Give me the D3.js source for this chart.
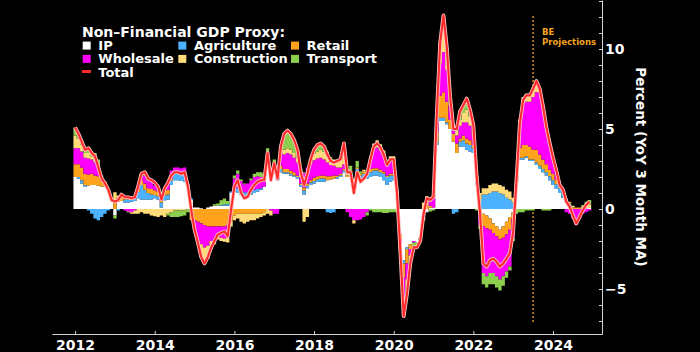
<!DOCTYPE html>
<html lang="en">
<head>
    <meta charset="utf-8">
    <title>Non-Financial GDP Proxy</title>
    <script type="text/javascript" src="https://d3js.org/d3.v7.min.js"></script>
    <style type="text/css">
        body { margin: 0; background: #000; }
        svg text { font-family: "DejaVu Sans", sans-serif; font-weight: bold; }
    </style>
</head>
<body>
    <script type="text/javascript">

        const width = 700;
        const height = 352;

        // monthly values, Jan 2012 .. Dec 2024 (percent, YoY 3 month MA)
        const startYear = 2012;

        const seriesNames = ["IP", "Agriculture", "Retail", "Wholesale", "Construction", "Transport"];
        const seriesColors = ["#ffffff", "#4cb1ff", "#ffa21c", "#ff00ff", "#ffdb7a", "#8ccf4e"];

        const ip = [
            2.0, 1.9, 1.6, 1.4, 1.45, 1.5, 1.5, 1.45, 1.4, 1.4, 1.2, 0.5,
            -0.4, 0.45, 0.5, 0.4, 0.4, 0.45, 0.5, 0.67, 0.6, 0.6, 0.6, 0.6,
            0.67, 0.6, 0.1, 0.55, 0.6, 1.5, 1.8, 1.8, 1.75, 1.7, 1.4, 0.56,
            0.1, 0.1, 0.05, 0.0, 0.1, 0.15, 0.2, 0.2, 0.2, 0.2, 0.2, 1.0,
            1.1, 1.0, 0.9, 0.8, 0.85, 0.9, 1.0, 1.1, 1.2, 1.4, 2.9, 1.9,
            2.2, 1.8, 2.3, 2.2, 2.2, 2.1, 2.0, 1.9, 1.4, 0.9, 1.3, 1.5,
            1.6, 1.7, 1.7, 1.7, 1.8, 1.85, 1.9, 1.9, 2.0, 2.3, 2.0, 2.2,
            1.6, 2.3, 1.9, 1.9, 1.9, 2.0, 2.1, 2.1, 2.0, 1.8, 1.5, 1.7,
            1.8, 1.1, -1.6, -3.2, -2.4, -2.2, -2.0, -2.1, -1.8, -0.7, -0.2, 0.1,
            0.1, 4.0, 5.5, 5.5, 5.3, 5.0, 4.2, 3.5, 3.9, 3.9, 3.7, 3.6,
            3.5, 1.5, 0.0, -0.3, -0.4, -0.6, -0.9, -1.1, -1.3, -1.1, -0.8, -0.5,
            -0.2, 1.7, 3.1, 3.1, 3.2, 3.0, 3.0, 2.75, 2.5, 2.3, 2.1, 1.8,
            1.5, 1.25, 1.0, 0.7, 0.4, 0.15, 0.0, 0.0, 0.0, 0.05, 0.05, 0.06
        ];

        const agriculture = [
            0, 0.1, 0.2, 0.1, -0.1, -0.3, -0.6, -0.7, -0.5, -0.3, -0.1, 0,
            0, -0.1, 0, 0.2, 0.2, 0.15, 0.2, 0.4, 0.9, 0.6, 0.4, 0.3,
            0.2, 0.2, 0.3, 0.3, 0.3, 0.3, 0.4, 0.4, 0.45, 0.5, 0.2, 0.1,
            0, 0, 0, 0, 0, 0, 0, 0, 0.05, 0.1, 0.1, 0.1,
            0.2, 0.3, 0.25, 0.25, 0.2, 0.2, 0.2, 0.15, 0.1, 0, 0.2, 0.1,
            0.2, 0.2, 0.2, 0.1, 0.1, 0.1, 0.1, 0.1, 0.1, 0.25, 0.15, 0.15,
            0.15, 0.15, 0.2, 0.2, -0.2, -0.25, -0.2, 0.1, 0.1, 0.1, 0, 0.1,
            0.1, 0.2, 0.2, 0.3, 0.3, 0.3, 0.3, 0.3, 0.3, 0.4, 0.5, 0.4,
            0.3, 0.1, 0, -0.2, -0.1, 0, 0, 0, 0, 0, 0, 0,
            0, 0.2, 0.2, 0.2, 0.1, 0, -0.3, -0.2, 0.3, 0.4, 0.4, 0.4,
            0.3, 0.3, 0.5, 0.9, 0.9, 1.0, 1.1, 1.1, 1.0, 0.9, 0.7, 0.6,
            0.4, 0.1, 0.1, 0.1, 0.1, 0.1, 0.1, 0.15, 0.2, 0.2, 0.2, 0.25,
            0.3, 0.3, 0.3, 0.35, 0.25, 0.2, 0, 0, 0, 0, 0, 0
        ];

        const retail = [
            0.8, 0.8, 0.8, 0.7, 0.7, 0.7, 0.6, 0.6, 0.4, 0.3, 0.06, 0.06,
            0.55, 0.3, 0.3, 0.15, 0.1, 0.1, 0.1, 0.2, 0.3, 0.4, 0.3, 0.35,
            0.3, 0.3, 0.1, 0.3, 0.3, 0.1, 0, 0, 0, 0, 0, -0.7,
            -0.7, -0.8, -0.9, -1.0, -1.1, -1.1, -1.1, -1.1, -1.1, -1.1, -1.0, -0.8,
            -0.4, -0.3, -0.3, -0.3, -0.3, -0.3, -0.3, -0.3, -0.3, -0.2, 0.1, 0,
            0.2, 0.1, 0.2, 0.2, 0.2, 0.2, 0.2, 0.1, 0.1, 0.2, 0.15, 0.15,
            0.2, 0.2, 0.2, 0.2, 0.25, 0.2, 0.2, 0.1, 0.1, 0.1, 0.1, 0.1,
            0, 0.1, 0.1, 0.15, 0.2, 0.2, 0.15, 0.15, 0.15, 0.15, 0.1, 0.1,
            0.1, 0, -0.3, -0.9, -0.9, -0.3, 0, 0, 0, 0, 0.2, 0.1,
            0, 0.6, 1.4, 1.6, 1.3, 0.6, 0.5, 0.6, 0.2, 0.3, 0.3, 0.3,
            0.2, 0, -0.2, -0.8, -0.8, -0.7, -0.6, -0.6, -0.6, -0.7, -0.8, -0.8,
            -0.4, 0.1, 0.6, 0.8, 0.7, 0.8, 0.6, 0.8, 0.7, 0.6, 0.5, 0.4,
            0.4, 0.3, 0.1, 0.1, 0, 0.1, 0.1, 0.1, 0.1, 0, 0, 0
        ];

        const wholesale = [
            1.0, 1.0, 1.0, 1.0, 1.0, 0.9, 0.8, 0.6, 0.2, 0, 0, 0,
            0, 0, 0, -0.1, -0.15, -0.2, -0.1, 0.2, 0.3, 0.5, 0.5, 0.5,
            0.3, 0.2, 0.1, 0.2, 0.5, 0.5, 0.4, 0.4, 0.35, 0.4, 0, 0,
            -0.6, -1.15, -1.3, -1.4, -1.2, -0.9, -0.8, -0.6, -0.7, -0.75, -0.8, 0,
            0.6, 0.9, 0.6, 0.5, 0.55, 0.7, 0.8, 0.8, 0.7, 0.5, 0.4, -0.1,
            -0.3, -0.3, 0.8, 0.9, 1.0, 1.0, 0.9, 0.8, 0.4, 0.9, 1.0, 1.0,
            1.1, 1.1, 1.1, 1.0, 0.85, 0.7, 0.6, 0.5, 0.4, 0.3, -0.2, -0.5,
            -0.7, -0.7, -0.65, -0.5, -0.2, 0.6, 1.2, 1.3, 1.2, 1.0, 0.7, 0.8,
            0.7, 0, -0.4, -1.3, -1.0, -0.4, -0.1, 0, 0, 0, 0, 0.3,
            0.6, 0.7, 2.0, 2.5, 2.0, 0.9, 0.4, 0.5, 0.8, 0.8, 1.0, 0.9,
            0.6, 0, -0.8, -2.9, -3.0, -2.7, -2.5, -2.5, -2.5, -2.4, -2.3, -2.3,
            -1.2, 0.2, 1.6, 2.6, 2.7, 2.8, 3.3, 3.6, 3.9, 3.4, 2.4, 1.75,
            1.0, 0.55, 0.1, 0.05, -0.2, -0.3, -0.6, -1.0, -0.6, -0.3, -0.2, -0.1
        ];

        const construction = [
            0.8, 0.6, 0.4, 0.3, 0.35, 0.2, 0.3, 0.2, 0, 0, 0, 0,
            0.5, 0.1, 0.1, 0, -0.05, -0.1, -0.2, -0.3, -0.2, -0.3, -0.3, -0.4,
            -0.45, -0.5, -0.4, -0.5, -0.3, -0.2, -0.1, -0.1, -0.1, -0.1, 0, 0,
            0, -0.2, -0.8, -1.0, -0.8, -0.5, -0.3, -0.2, -0.2, -0.2, -0.3, -0.3,
            -0.3, -0.3, -0.5, -0.6, -0.5, -0.4, -0.4, -0.3, -0.2, -0.2, -0.3, -0.3,
            0.3, 0.1, 0.2, 0.3, 0.3, 0.3, 0.3, 0.3, 0.2, -0.8, -0.5, 0.3,
            0.4, 0.45, 0.5, 0.5, 0.5, 0.4, 0.4, 0.4, 0.5, 1.0, 0.3, 0,
            -0.2, 0, 0, 0.1, 0, 0.1, 0.35, 0.45, 0.4, 0.3, 0.2, 0.3,
            0.4, 0, -0.2, -0.6, -0.5, -0.3, 0, 0, 0, 0.4, 0.6, 0.2,
            0.2, 0.4, 1.0, 1.5, 1.0, 0.3, 0, 0.3, 0.4, 0.6, 0.8, 0.6,
            0.4, 0.3, 0.5, 0.4, 0.4, 0.5, 0.5, 0.5, 0.5, 0.5, 0.5, 0.5,
            0.3, 0, 0.2, 0.4, 0.5, 0.5, 0.6, 0.7, 0.2, 0, 0, 0,
            0, 0, 0, 0, 0, 0, 0.1, 0, 0, 0.1, 0.2, 0.2
        ];

        const transport = [
            0.5, 0.3, 0.3, 0.2, 0.25, 0.2, 0.3, 0.25, 0.1, 0, 0, 0,
            -0.2, 0, 0, 0, 0, 0, 0, 0, 0.1, 0.2, 0.2, 0.1,
            0, 0, 0, 0, -0.1, -0.3, -0.4, -0.4, -0.35, -0.3, -0.2, 0,
            0, 0, 0, 0, 0, 0, 0.1, 0.15, 0.3, 0.35, 0.2, 0,
            0.2, 0.2, 0.1, 0.05, 0, 0.1, 0.2, 0.25, 0.3, 0.3, 0.2, 0.1,
            0.2, 0, 0.2, 1.0, 1.1, 1.0, 0.8, 0.5, 0.3, 0.05, 0, 0.1,
            0.25, 0.4, 0.4, 0.3, 0.2, 0.1, 0, 0, 0, 0.3, 0.1, 0.3,
            0.2, 0.4, 0.15, 0, -0.2, -0.1, -0.2, -0.2, -0.2, -0.25, -0.25, -0.2,
            -0.2, -0.2, -0.1, -0.5, -0.4, -0.2, -0.3, -0.3, -0.2, 0, 0, -0.15,
            -0.1, 0.1, 0.3, 0.8, 0.4, 0.2, 0.2, 0.3, 0.5, 0.5, 0.7, 0.4,
            0.25, -0.1, -0.25, -0.7, -0.7, -0.7, -0.7, -0.7, -0.7, -0.6, -0.4, -0.25,
            -0.2, -0.3, -0.2, -0.2, -0.1, -0.1, -0.1, 0, 0, -0.1, -0.1, -0.1,
            0, 0, 0, 0, 0, 0, 0, 0, 0, 0.1, 0.2, 0.3
        ];

        const total = [
            5.1, 4.7, 4.2, 3.7, 3.8, 3.5, 3.3, 2.6, 1.9, 1.6, 1.2, 0.56,
            0.46, 0.56, 0.9, 0.73, 0.73, 0.67, 0.73, 1.4, 2.2, 2.3, 1.9, 1.8,
            1.65, 1.4, 0.6, 1.3, 1.65, 2.1, 2.3, 2.3, 2.2, 2.3, 1.4, -0.06,
            -1.3, -2.1, -3.0, -3.4, -3.0, -2.4, -2.0, -1.6, -1.5, -1.4, -1.7, -0.06,
            1.4, 1.8, 1.0, 0.67, 0.77, 1.2, 1.5, 1.7, 1.8, 1.8, 3.5, 1.8,
            2.85, 1.9, 3.9, 4.7, 4.9, 4.7, 4.3, 3.7, 2.3, 1.5, 2.2, 3.1,
            3.7, 4.0, 4.1, 3.9, 3.4, 3.0, 2.9, 3.0, 3.1, 4.1, 2.3, 2.3,
            1.0, 2.3, 1.7, 1.9, 2.2, 3.1, 3.9, 4.1, 3.85, 3.4, 2.75, 3.1,
            3.1, 1.0, -2.6, -6.7, -5.3, -3.4, -2.4, -2.4, -2.0, -0.3, 0.67, 0.56,
            0.77, 6.0, 10.4, 12.1, 10.1, 7.0, 5.0, 5.0, 6.1, 6.5, 6.9, 6.2,
            5.25, 2.0, -0.25, -3.4, -3.6, -3.2, -3.1, -3.3, -3.6, -3.4, -3.1, -2.75,
            -1.4, 1.8, 5.3, 6.8, 7.1, 7.1, 7.5, 8.0, 7.5, 6.4, 5.1, 4.1,
            3.2, 2.4, 1.5, 1.2, 0.46, 0.15, -0.4, -0.9, -0.5, -0.06, 0.25, 0.46
        ];

        const yearTicks = [2012, 2014, 2016, 2018, 2020, 2022, 2024];
        const projectionStart = 2023.5;

        // table for the stack
        const allSeries = [ip, agriculture, retail, wholesale, construction, transport];
        const rows = total.map((t, i) => {
            const row = { t: startYear + i / 12, total: t };
            seriesNames.forEach((name, k) => { row[name] = allSeries[k][i]; });
            return row;
        });

        const stacked = d3.stack()
            .keys(seriesNames)
            .offset(d3.stackOffsetDiverging)(rows);

        // Scales
        const x = d3.scaleLinear()
            .domain([2011.42, 2025.23])
            .range([52, 602]);

        const y = d3.scaleLinear()
            .domain([-7.8125, 13.0625])
            .range([334, 0]);

        const half = 1 / 24;

        // SVG
        const svg = d3.select("body")
            .append("svg")
            .attr("width", width)
            .attr("height", height)
            .style("display", "block")
            .style("background", "#000");

        // projection marker (behind the bars)
        svg.append("line")
            .attr("x1", x(projectionStart))
            .attr("x2", x(projectionStart))
            .attr("y1", 16)
            .attr("y2", 322)
            .attr("stroke", "#f5a31f")
            .attr("stroke-width", 1.3)
            .attr("stroke-dasharray", "2,2");

        svg.append("text")
            .attr("x", x(projectionStart) + 9)
            .attr("y", 35)
            .attr("fill", "#f5a31f")
            .attr("font-size", 8.5)
            .selectAll("tspan")
            .data(["BE", "Projections"])
            .enter()
            .append("tspan")
            .attr("x", x(projectionStart) + 9)
            .attr("dy", (d, i) => i === 0 ? 0 : 10.3)
            .text(d => d);

        // Bars: each series drawn as one stepped band (one step per month),
        // so neighbouring months share edges and leave no seams
        const band = d3.area()
            .x(d => x(d.t))
            .y0(d => y(d.lo))
            .y1(d => y(d.hi))
            .curve(d3.curveStepAfter);

        const bandPoints = s => {
            const pts = s.map((d, i) => ({ t: rows[i].t - half, lo: d[0], hi: d[1] }));
            const last = s[s.length - 1];
            pts.push({ t: rows[rows.length - 1].t + half, lo: last[0], hi: last[1] });
            return pts;
        };

        svg.append("g")
            .selectAll("path")
            .data(stacked)
            .enter()
            .append("path")
            .attr("fill", (d, i) => seriesColors[i])
            .attr("d", d => band(bandPoints(d)));

        // Total line
        const line = d3.line()
            .x(d => x(d.t))
            .y(d => y(d.total));

        svg.append("path")
            .datum(rows)
            .attr("fill", "none")
            .attr("stroke", "#ffc4c4")
            .attr("stroke-width", 3.8)
            .attr("stroke-linejoin", "round")
            .attr("d", line);

        svg.append("path")
            .datum(rows)
            .attr("fill", "none")
            .attr("stroke", "#ff2b2b")
            .attr("stroke-width", 2.1)
            .attr("stroke-linejoin", "round")
            .attr("d", line);

        // Axes
        const xAxis = d3.axisBottom(x)
            .tickValues(yearTicks)
            .tickFormat(d3.format("d"))
            .tickSizeInner(-3)
            .tickSizeOuter(0)
            .tickPadding(6);

        const fmt = d3.format("d");
        const yAxis = d3.axisRight(y)
            .tickValues(d3.range(-7, 14))
            .tickFormat(d => d % 5 === 0 ? fmt(d) : "")
            .tickSizeInner(-3)
            .tickSizeOuter(0)
            .tickPadding(3);

        const gx = svg.append("g")
            .attr("transform", `translate(0,${y.range()[0]})`)
            .call(xAxis);

        const gy = svg.append("g")
            .attr("transform", `translate(${x.range()[1]},0)`)
            .call(yAxis);

        [gx, gy].forEach(g => {
            g.attr("font-family", null).attr("font-size", 14);
            g.selectAll(".domain, .tick line").attr("stroke", "#d4d4d4");
            g.selectAll(".tick text").attr("fill", "#ffffff");
        });

        svg.append("text")
            .attr("transform", "translate(636,167) rotate(90)")
            .attr("text-anchor", "middle")
            .attr("fill", "#ffffff")
            .attr("font-size", 13.5)
            .text("Percent (YoY 3 Month MA)");

        // Legend
        const legend = svg.append("g");

        legend.append("text")
            .attr("x", 82)
            .attr("y", 36.7)
            .attr("fill", "#ffffff")
            .attr("font-size", 14)
            .text("Non\u2013Financial GDP Proxy:");

        const colX = [82.7, 178.3, 291];
        const rowY = [50, 63.3];

        seriesNames.forEach((name, i) => {
            const cx = colX[i % 3];
            const cy = rowY[Math.floor(i / 3)];
            legend.append("rect")
                .attr("x", cx)
                .attr("y", cy - 8.4)
                .attr("width", 8)
                .attr("height", 8)
                .attr("fill", seriesColors[i]);
            legend.append("text")
                .attr("x", cx + 15.6)
                .attr("y", cy)
                .attr("fill", "#ffffff")
                .attr("font-size", 13)
                .text(name);
        });

        legend.append("rect")
            .attr("x", 82)
            .attr("y", 70)
            .attr("width", 9)
            .attr("height", 3)
            .attr("fill", "#ff2b2b");

        legend.append("text")
            .attr("x", 98.3)
            .attr("y", 76.7)
            .attr("fill", "#ffffff")
            .attr("font-size", 13)
            .text("Total");

    </script>
</body>
</html>
